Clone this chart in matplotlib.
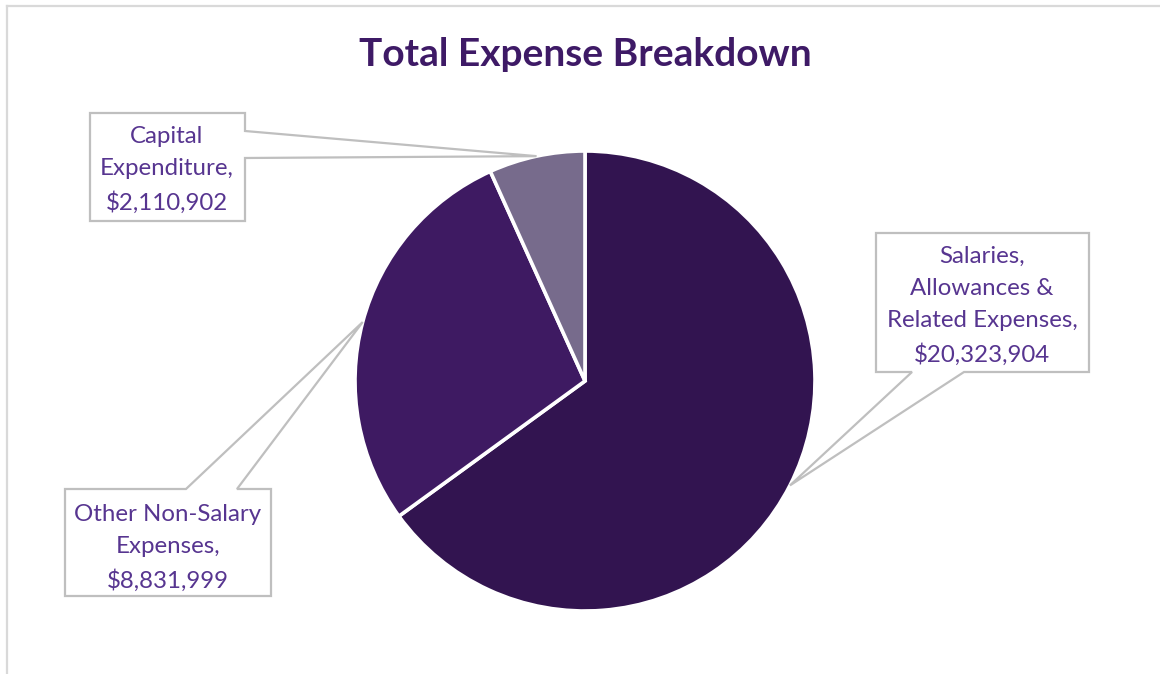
import matplotlib
matplotlib.use("Agg")
import matplotlib.pyplot as plt
import numpy as np
from matplotlib.patches import Polygon
from matplotlib.lines import Line2D

# Expense categories and amounts
categories = ["Salaries,\nAllowances &\nRelated Expenses",
              "Other Non-Salary\nExpenses",
              "Capital\nExpenditure"]
values = [20323904, 8831999, 2110902]
slice_colors = ["#321450", "#3E1A62", "#776B8C"]
title = "Total Expense Breakdown"

W, H = 1160, 674
fig = plt.figure(figsize=(W / 100, H / 100), dpi=100)
ax = fig.add_axes([0, 0, 1, 1])


def sy(y):
    """Convert a top-down pixel row into the axes' upward y coordinate."""
    return H - y


center = (585, sy(381))
radius = 230

wedges, _ = ax.pie(values, colors=slice_colors, startangle=90, counterclock=False,
                   center=center, radius=radius,
                   wedgeprops=dict(edgecolor="white", linewidth=2.6))

ax.set_xlim(0, W)
ax.set_ylim(0, H)
ax.set_aspect("equal")
ax.axis("off")

# Light frame along the top and left
frame_col = "#D9D9D9"
ax.add_line(Line2D([7, W], [sy(6), sy(6)], color=frame_col, lw=1.6))
ax.add_line(Line2D([7, 7], [sy(6), 0], color=frame_col, lw=1.6))

# Callout boxes: (x0, y0, x1, y1), side of the pointer, attachment span, text centre
callouts = [
    dict(box=(876, 233, 1089, 372), side="bottom", span=(912, 964), text_xy=(982, 306)),
    dict(box=(65, 489, 271, 596), side="top", span=(186, 237), text_xy=(168, 548)),
    dict(box=(90, 113, 245, 221), side="right", span=(131, 158), text_xy=(167, 170)),
]

label_col = "#573590"
fs = 17.3
for wedge, cat, val, c in zip(wedges, categories, values, callouts):
    mid = np.deg2rad((wedge.theta1 + wedge.theta2) / 2)
    tip = (center[0] + radius * np.cos(mid), center[1] + radius * np.sin(mid))
    x0, y0, x1, y1 = c["box"]
    a, b = c["span"]
    if c["side"] == "bottom":
        pts = [(x0, sy(y0)), (x1, sy(y0)), (x1, sy(y1)), (b, sy(y1)), tip,
               (a, sy(y1)), (x0, sy(y1))]
    elif c["side"] == "top":
        pts = [(x0, sy(y0)), (a, sy(y0)), tip, (b, sy(y0)), (x1, sy(y0)),
               (x1, sy(y1)), (x0, sy(y1))]
    else:
        pts = [(x0, sy(y0)), (x1, sy(y0)), (x1, sy(a)), tip, (x1, sy(b)),
               (x1, sy(y1)), (x0, sy(y1))]
    ax.add_patch(Polygon(pts, closed=True, facecolor="white", edgecolor="#BFBFBF",
                         lw=1.6, joinstyle="miter", zorder=3))
    tx, ty = c["text_xy"]
    ax.text(tx, sy(ty), f"{cat},\n${val:,.0f}", ha="center", va="center",
            fontsize=fs, color=label_col, family="Lato",
            linespacing=1.64, zorder=4)

ax.text(585, sy(54), title, ha="center", va="center", fontsize=28,
        fontweight="bold", color="#3E1A66", family="Lato")

fig.savefig("out.png", dpi=100, facecolor="white")
